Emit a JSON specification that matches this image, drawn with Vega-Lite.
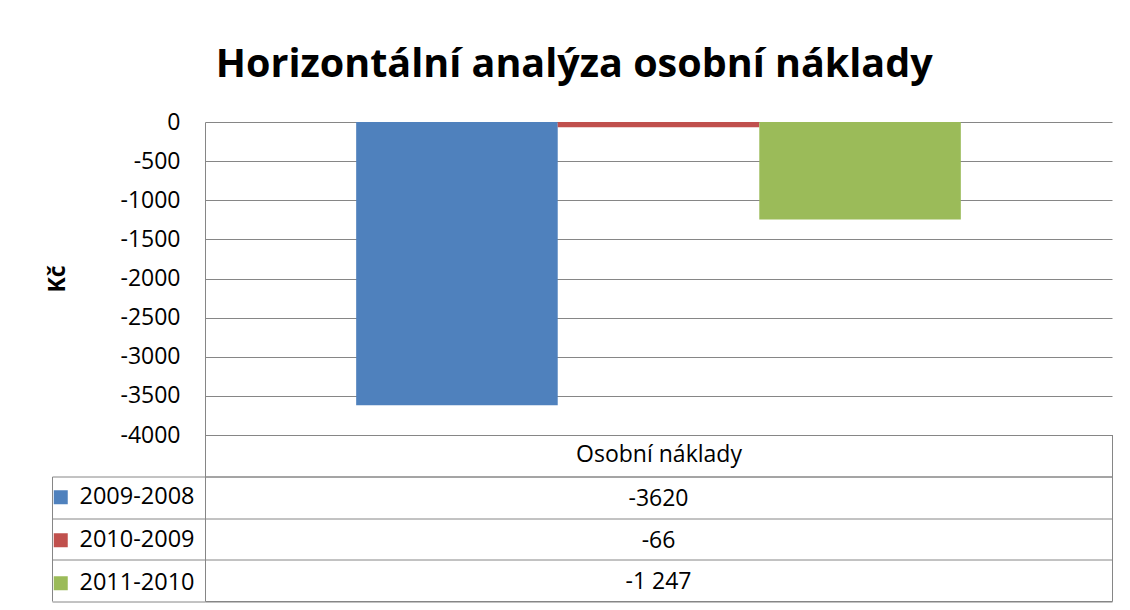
{
  "$schema": "https://vega.github.io/schema/vega-lite/v6.json",
  "background": "white",
  "padding": {"left": 39, "top": 44, "right": 5, "bottom": 5},
  "autosize": {"type": "pad"},
  "title": {"text": "Horizontální analýza osobní náklady", "font": "Open Sans", "fontSize": 39.5, "fontWeight": "bold", "color": "black", "anchor": "middle", "offset": 26, "dx": -2},
  "datasets": {
    "d": [
      {"category": "Osobní náklady", "series": "2009-2008", "value": -3620, "label": "-3620"},
      {"category": "Osobní náklady", "series": "2010-2009", "value": -66, "label": "-66"},
      {"category": "Osobní náklady", "series": "2011-2010", "value": -1247, "label": "-1 247"}
    ]
  },
  "data": {"name": "d"},
  "bounds": "flush",
  "spacing": 41.5,
  "resolve": {"legend": {"color": "independent"}},
  "vconcat": [
    {
      "width": 907,
      "height": 313,
      "view": {"stroke": null},
      "mark": {"type": "bar"},
      "encoding": {
        "x": {"field": "category", "type": "nominal", "axis": null, "scale": {"paddingOuter": 0.25, "paddingInner": 0}},
        "xOffset": {"field": "series", "type": "nominal", "scale": {"paddingInner": 0, "paddingOuter": 0}},
        "y": {
          "field": "value", "type": "quantitative",
          "scale": {"domain": [-4000, 0], "nice": false},
          "axis": {
            "title": "Kč", "titleFont": "Open Sans", "titleFontSize": 23, "titleFontWeight": "bold", "titleColor": "black", "titlePadding": 50,
            "values": [-4000, -3500, -3000, -2500, -2000, -1500, -1000, -500, 0],
            "labelExpr": "'' + datum.value",
            "labelFont": "Open Sans", "labelFontSize": 23, "labelColor": "black", "labelPadding": 25,
            "ticks": false, "domainColor": "#868686", "domainWidth": 1, "gridColor": "#868686", "gridWidth": 1, "gridOpacity": 1
          }
        },
        "color": {"field": "series", "type": "nominal", "scale": {"range": ["#4F81BD", "#C0504D", "#9BBB59"]}, "legend": null}
      }
    },
    {
      "width": 907,
      "height": 124.5,
      "view": {"stroke": "#868686", "strokeWidth": 1},
      "encoding": {
        "x": {
          "field": "category", "type": "nominal",
          "scale": {"paddingInner": 0, "paddingOuter": 0},
          "axis": {"orient": "top", "title": null, "tickBand": "extent", "tickSize": 42, "tickColor": "#868686", "grid": false, "domain": false, "labelAngle": 0, "labelFont": "Open Sans", "labelFontSize": 23, "labelColor": "black", "labelPadding": -20, "labelBaseline": "middle"}
        },
        "y": {
          "field": "series", "type": "nominal",
          "scale": {"paddingInner": 0, "paddingOuter": 0},
          "axis": {
            "title": null, "labels": false, "offset": 153, "tickBand": "extent", "tickSize": -153, "tickColor": "#868686",
            "grid": true, "gridColor": "#868686", "gridOpacity": 1,
            "domain": true, "domainColor": "#868686"
          }
        }
      },
      "layer": [
        {
          "mark": {"type": "bar", "opacity": 0},
          "encoding": {
            "color": {
              "field": "series", "type": "nominal",
              "scale": {"range": ["#4F81BD", "#C0504D", "#9BBB59"]},
              "legend": {"orient": "left", "offset": -153, "title": null, "symbolType": "square", "symbolSize": 196, "symbolOpacity": 1, "symbolStrokeWidth": 0, "labelFont": "Open Sans", "labelFontSize": 23.5, "labelColor": "black", "labelOffset": 7, "padding": 9, "rowPadding": 18, "labelLimit": 0}
            }
          }
        },
        {
          "mark": {"type": "text", "font": "Open Sans", "fontSize": 23, "color": "black", "dy": 2},
          "encoding": {"text": {"field": "label"}}
        }
      ]
    }
  ]
}
